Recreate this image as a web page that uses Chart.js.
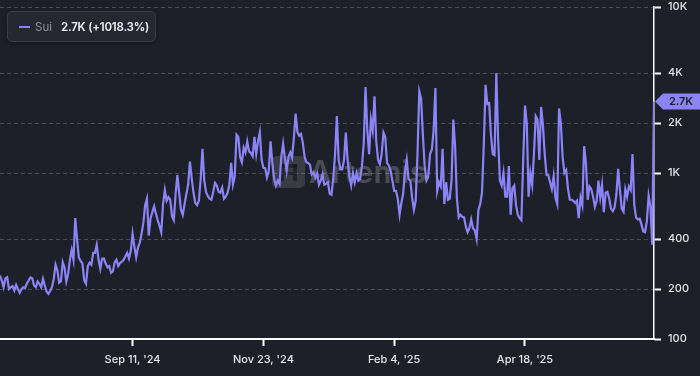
<!DOCTYPE html>
<html>
<head>
<meta charset="utf-8">
<script src="https://cdn.jsdelivr.net/npm/chart.js@4.4.1/dist/chart.umd.min.js"></script>
<style>
  html, body { margin: 0; padding: 0; background: #1d1f29; }
  #wrap { position: relative; width: 700px; height: 376px; }
  #legend {
    position: absolute; left: 7px; top: 11px; width: 147px; height: 29px;
    border: 1px solid #3a3d4a; border-radius: 5px; background: #252733;
    font-family: Inter, "Noto Sans", sans-serif; font-size: 11.5px;
    display: flex; align-items: center; white-space: nowrap;
    box-shadow: 0 1px 4px rgba(0,0,0,0.35);
  }
  #legend .mark { width: 11px; height: 2px; background: #8a84f7; margin-left: 11px; flex: none; }
  #legend .name { color: #8e909c; margin-left: 5px; }
  #legend .val { color: #f2f2f6; font-weight: 600; margin-left: 9px; letter-spacing: -0.2px; }
</style>
</head>
<body>
<div id="wrap">
  <canvas id="chart" width="700" height="376"></canvas>
  <div id="legend"><span class="mark"></span><span class="name">Sui</span><span class="val">2.7K (+1018.3%)</span></div>
</div>
<script>
(function () {
    "use strict";

    // daily values, Jun 29 '24 -> Jun 29 '25
    const suiValues = [
        241, 225, 205, 232, 236, 200, 205, 208, 196, 212,
        200, 190, 200, 205, 203, 216, 225, 235, 232, 210,
        205, 222, 215, 205, 230, 210, 193, 187, 195, 205,
        230, 280, 260, 218, 222, 290, 270, 222, 245, 300,
        343, 300, 535, 400, 310, 295, 285, 225, 215, 275,
        288, 280, 330, 330, 370, 300, 265, 305, 305, 285,
        270, 275, 250, 255, 290, 300, 275, 287, 292, 300,
        315, 330, 305, 340, 430, 360, 310, 355, 380, 430,
        500, 640, 700, 420, 530, 580, 630, 570, 520, 480,
        440, 650, 790, 680, 715, 690, 550, 520, 750, 970,
        760, 600, 560, 650, 745, 850, 1170, 925, 760, 660,
        640, 680, 920, 1400, 900, 770, 725, 700, 690, 770,
        870, 840, 770, 760, 815, 700, 720, 760, 850, 1150,
        850, 950, 1700, 1650, 1250, 1160, 1420, 1330, 1550, 1350,
        1320, 1260, 1650, 1300, 1550, 1760, 1200, 1075, 1070, 940,
        1030, 1550, 1150, 920, 840, 900, 860, 1250, 1500, 1230,
        1030, 1250, 1330, 1240, 1620, 2280, 1760, 1680, 1720, 1520,
        1250, 1160, 1150, 1120, 980, 1010, 935, 990, 850, 900,
        980, 850, 860, 880, 750, 740, 930, 1300, 2200, 1200,
        1050, 1050, 1200, 1750, 1200, 950, 840, 1000, 880, 1000,
        900, 920, 1100, 1500, 3300, 1800, 1300, 2100, 1800, 2900,
        1550, 1200, 1130, 1300, 1750, 1650, 1150, 1110, 1030, 900,
        780, 780, 700, 560, 660, 750, 1020, 1200, 920, 900,
        710, 600, 680, 1300, 3100, 2800, 1700, 1100, 900, 950,
        1300, 1380, 1800, 3250, 780, 880, 830, 1400, 650, 880,
        690, 700, 900, 2100, 1450, 700, 540, 560, 545, 540,
        475, 440, 465, 525, 465, 450, 400, 600, 650, 760,
        1470, 3400, 2600, 2630, 1700, 1300, 1280, 4000, 1600, 900,
        840, 1000, 720, 720, 1100, 560, 810, 840, 640, 560,
        535, 520, 1200, 2550, 2000, 720, 1000, 850, 1300, 2200,
        2100, 1200, 2500, 1950, 1300, 975, 970, 880, 800, 960,
        710, 650, 2450, 2000, 1250, 1000, 1040, 800, 690, 690,
        680, 660, 680, 535, 710, 640, 1450, 1150, 690, 830,
        800, 720, 625, 680, 900, 710, 850, 580, 760, 770,
        700, 610, 590, 620, 740, 1060, 790, 610, 585, 800,
        720, 830, 790, 1300, 640, 540, 525, 530, 490, 445,
        440, 510, 730, 630, 370, 2700
    ];
    const xTickDays = [74, 147, 220, 293];
    const xTickLabels = ["Sep 11, '24", "Nov 23, '24", "Feb 4, '25", "Apr 18, '25"];
    const yTickValues = [100, 200, 400, 1000, 2000, 4000, 10000];
    const lastLabel = "2.7K";

    const lineColor = "#8a84f7";
    const axisText = "#e4e4ea";

    const watermark = {
        id: "watermark",
        beforeDatasetsDraw(chart) {
            const ctx = chart.ctx;
            ctx.save();
            ctx.fillStyle = "rgba(255,255,255,0.13)";
            ctx.beginPath();
            ctx.roundRect(272, 156, 33, 32, 5);
            ctx.fill();
            ctx.fillStyle = "rgba(20,21,28,0.6)";
            ctx.fillRect(280, 164, 4, 17);
            ctx.fillRect(280, 164, 17, 4);
            ctx.fillRect(293, 164, 4, 17);
            ctx.fillRect(284, 172, 9, 3);
            ctx.fillStyle = "rgba(255,255,255,0.2)";
            ctx.font = "600 31px Inter, sans-serif";
            ctx.textBaseline = "alphabetic";
            ctx.fillText("Artemis", 309, 183);
            ctx.restore();
        }
    };

    const lastTag = {
        id: "lastTag",
        afterDraw(chart) {
            const ctx = chart.ctx;
            const y = chart.scales.y.getPixelForValue(suiValues[suiValues.length - 1]);
            const x0 = chart.chartArea.right + 1;
            ctx.save();
            ctx.fillStyle = lineColor;
            ctx.beginPath();
            ctx.moveTo(x0, y);
            ctx.lineTo(x0 + 8, y - 8);
            ctx.lineTo(700, y - 8);
            ctx.lineTo(700, y + 8);
            ctx.lineTo(x0 + 8, y + 8);
            ctx.closePath();
            ctx.fill();
            ctx.fillStyle = "#1d1f29";
            ctx.font = "600 11px Inter, sans-serif";
            ctx.textAlign = "center";
            ctx.textBaseline = "middle";
            ctx.fillText(lastLabel, 681, y + 0.5);
            ctx.restore();
        }
    };

    const ctx = document.getElementById("chart").getContext("2d");
    new Chart(ctx, {
        type: "line",
        data: {
            datasets: [
                {
                    label: "Sui",
                    data: suiValues.map((v, i) => ({ x: i, y: v })),
                    borderColor: lineColor,
                    borderWidth: 2.2,
                    pointRadius: 0,
                    tension: 0,
                    fill: false,
                },
            ],
        },
        options: {
            responsive: false,
            animation: false,
            layout: { padding: { top: 7, left: 0, right: 0, bottom: 0 } },
            plugins: {
                legend: { display: false },
                tooltip: { enabled: false },
            },
            scales: {
                x: {
                    type: "linear",
                    min: 0,
                    max: suiValues.length - 1,
                    afterBuildTicks: (axis) => {
                        axis.ticks = xTickDays.map((v) => ({ value: v }));
                    },
                    afterFit: (axis) => {
                        axis.height = 37;
                        axis.paddingLeft = 0;
                        axis.paddingRight = 0;
                    },
                    ticks: {
                        color: axisText,
                        padding: 7,
                        font: { family: "Inter", size: 11, weight: "500" },
                        callback: (v) => {
                            const k = xTickDays.indexOf(v);
                            return k >= 0 ? xTickLabels[k] : "";
                        },
                        maxRotation: 0,
                        autoSkip: false,
                    },
                    grid: {
                        drawOnChartArea: false,
                        tickColor: "#ffffff",
                        tickLength: 7,
                        tickWidth: 2,
                    },
                    border: { color: "#ffffff", width: 2 },
                },
                y: {
                    type: "logarithmic",
                    position: "right",
                    min: 100,
                    max: 10000,
                    afterBuildTicks: (axis) => {
                        axis.ticks = yTickValues.map((v) => ({ value: v }));
                    },
                    afterFit: (axis) => {
                        axis.width = 46;
                        axis.paddingTop = 0;
                        axis.paddingBottom = 0;
                    },
                    ticks: {
                        color: axisText,
                        padding: 7,
                        font: { family: "Inter", size: 11, weight: "500" },
                        callback: (v) => (v >= 1000 ? v / 1000 + "K" : String(v)),
                    },
                    grid: {
                        color: "#4a4c58",
                        lineWidth: 1,
                        tickColor: "#ffffff",
                        tickLength: 7,
                        tickWidth: 2,
                    },
                    border: { color: "#ffffff", width: 1.5, dash: [4, 3] },
                },
            },
        },
        plugins: [watermark, lastTag],
    });
})();
</script>
</body>
</html>
